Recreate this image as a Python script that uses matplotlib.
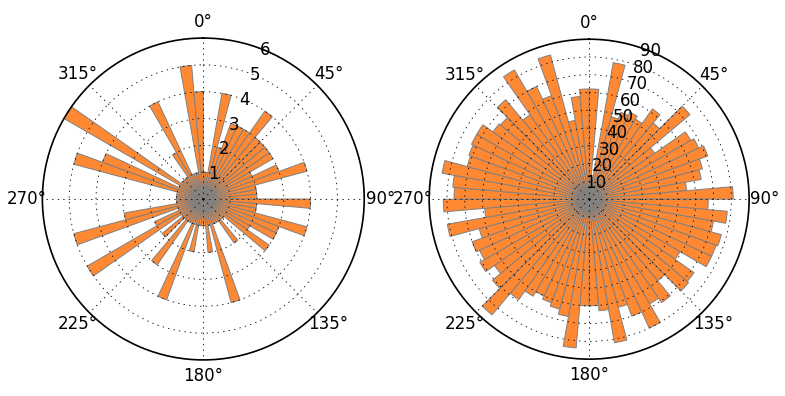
import numpy as np
import matplotlib
matplotlib.use("Agg")
import matplotlib.pyplot as plt

# 5 degree bins, bars start at the left edge of each bin
bin_deg = np.arange(0, 360, 5)

# left rose, counts per bin (0..85, 90..175, 180..265, 270..355)
counts_left = [1, 1, 4, 2, 3, 3, 3, 4, 3, 3, 3, 3, 2, 3, 4, 2, 2, 2,
               4, 2, 2, 4, 3, 3, 2, 3, 1, 1, 2, 1, 1, 1, 4, 1, 2, 1,
               1, 1, 2, 1, 4, 1, 1, 3, 1, 2, 1, 5, 2, 1, 5, 3, 1, 1,
               1, 1, 1, 5, 4, 1, 6, 1, 1, 1, 1, 2, 4, 1, 1, 1, 5, 4]

# right rose, counts per bin
counts_right = [62, 12, 78, 48, 52, 54, 52, 62, 56, 74, 45, 66, 68, 71, 66, 64, 55, 81,
                67, 78, 71, 77, 76, 76, 59, 72, 73, 60, 71, 68, 80, 70, 63, 82, 63, 60,
                60, 84, 67, 64, 62, 60, 63, 69, 85, 71, 65, 71, 68, 70, 64, 81, 59, 82,
                76, 77, 84, 71, 72, 73, 73, 66, 65, 73, 58, 84, 70, 62, 84, 45, 58, 62]

rticks_left = [1, 2, 3, 4, 5, 6]
rticks_right = [10, 20, 30, 40, 50, 60, 70, 80, 90]

theta_ticks = [0, 45, 90, 135, 180, 225, 270, 315]
theta_labels = ["%d°" % t for t in theta_ticks]

bar_color = "#ff8833"

plt.rcParams["lines.scale_dashes"] = False

fig = plt.figure(figsize=(7.85, 3.96), dpi=100)

panels = [([0.054, 0.091, 0.410, 0.813], counts_left, rticks_left),
          ([0.5465, 0.093, 0.408, 0.808], counts_right, rticks_right)]

for rect, counts, rticks in panels:
    ax = fig.add_axes(rect, projection="polar")
    ax.set_theta_zero_location("N")
    ax.set_theta_direction(-1)
    ax.bar(np.radians(bin_deg), counts, width=np.radians(5), align="edge",
           color=bar_color, edgecolor="gray", linewidth=0.7, joinstyle="round")
    ax.set_ylim(0, rticks[-1])
    ax.set_yticks(rticks)
    ax.set_yticklabels([])
    ax.set_xticks(np.radians(theta_ticks))
    ax.set_xticklabels([])
    # radius labels centred on their rings at 22.5 deg
    for r in rticks:
        ax.text(np.radians(22.5), r, str(r), ha="center", va="center",
                fontsize=12, clip_on=False, zorder=5)
    # angle labels centred at 1.1 x radius like the old polar axes
    for t, lab in zip(theta_ticks, theta_labels):
        ax.text(0.5 + 0.55 * np.sin(np.radians(t)), 0.5 + 0.55 * np.cos(np.radians(t)),
                lab, transform=ax.transAxes, ha="center", va="center", fontsize=12)
    ax.grid(True, color="black", linestyle=(0, (1, 3)), linewidth=0.6)
    ax.spines["polar"].set_linewidth(1.2)

plt.savefig("out.png", dpi=100)
